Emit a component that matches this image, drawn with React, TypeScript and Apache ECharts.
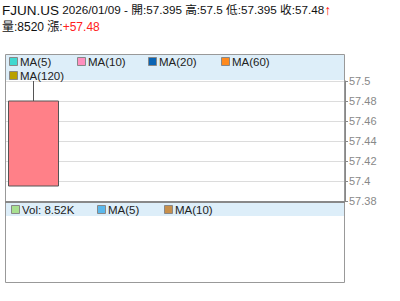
import React, { useEffect, useRef } from "react";
import * as echarts from "echarts";

const symbol = "FJUN.US";
const dates = ["2026/01/09"];
// [open, close, low, high]
const ohlc = [[57.395, 57.48, 57.395, 57.5]];
const volumes = [8520];
const changeText = "+57.48";
const yMin = 57.38;
const yMax = 57.5;
const yInterval = 0.02;
const slotCount = 6;

const priceLegend = [
  { name: "MA(5)", color: "#40d8d0", x: 9, row: 0 },
  { name: "MA(10)", color: "#ff8fbf", x: 77, row: 0 },
  { name: "MA(20)", color: "#0a64b4", x: 148, row: 0 },
  { name: "MA(60)", color: "#ff8a1e", x: 221, row: 0 },
  { name: "MA(120)", color: "#b8a000", x: 9, row: 1 },
];
const volLegend = [
  { name: "Vol: 8.52K", color: "#a8e090", x: 11 },
  { name: "MA(5)", color: "#5ab8ec", x: 97 },
  { name: "MA(10)", color: "#c8904c", x: 164 },
];

const FONT = "Liberation Sans, Arial, Noto Sans CJK TC, sans-serif";

export default function App() {
  const ref = useRef<HTMLDivElement>(null);
  useEffect(() => {
    if (!ref.current) return;
    const chart = echarts.init(ref.current, null, { renderer: "svg" });
    const [o, c, l, h] = ohlc[0];
    const graphic: any[] = [
      {
        type: "text",
        x: 2,
        y: 3,
        style: {
          text: `{a|${symbol}} {b|${dates[0]} - 開:${o} 高:${h} 低:${l} 收:${c}}{r|↑}`,
          rich: {
            a: { fontSize: 13.5, fontFamily: FONT, fill: "#111" },
            b: { fontSize: 11.7, fontFamily: FONT, fill: "#111" },
            r: { fontSize: 14, fontWeight: "bold", fontFamily: FONT, fill: "#ff2020" },
          },
        },
      },
      {
        type: "text",
        x: 2,
        y: 21,
        style: {
          text: `{b|量:${volumes[0]} 漲:}{r|${changeText}}`,
          rich: {
            b: { fontSize: 12, fontFamily: FONT, fill: "#111" },
            r: { fontSize: 12, fontFamily: FONT, fill: "#ff2020" },
          },
        },
      },
      { type: "rect", shape: { x: 6, y: 55, width: 338, height: 25 }, style: { fill: "#ddeef9" }, z: 0 },
      { type: "rect", shape: { x: 6, y: 203, width: 338, height: 13 }, style: { fill: "#ddeef9" }, z: 0 },
      { type: "rect", shape: { x: 5.5, y: 54.5, width: 339, height: 147 }, style: { fill: "none", stroke: "#999", lineWidth: 1 }, z: 5 },
      { type: "rect", shape: { x: 5.5, y: 202, width: 339, height: 80.5 }, style: { fill: "none", stroke: "#999", lineWidth: 1 }, z: 5 },
      { type: "line", shape: { x1: 5, y1: 202, x2: 345, y2: 202 }, style: { stroke: "#888", lineWidth: 2 }, z: 6 },
    ];
    priceLegend.forEach((p) => {
      const cy = 62 + p.row * 14;
      graphic.push({ type: "rect", shape: { x: p.x + 0.5, y: cy - 4.5, width: 8, height: 8 }, style: { fill: p.color, stroke: "#888", lineWidth: 1 }, z: 10 });
      graphic.push({ type: "text", x: p.x + 11, y: cy, style: { text: p.name, fontSize: 11.5, fontFamily: FONT, fill: "#222", verticalAlign: "middle" }, z: 10 });
    });
    volLegend.forEach((p) => {
      const cy = 210;
      graphic.push({ type: "rect", shape: { x: p.x + 0.5, y: cy - 4.5, width: 8, height: 8 }, style: { fill: p.color, stroke: "#888", lineWidth: 1 }, z: 10 });
      graphic.push({ type: "text", x: p.x + 11, y: cy, style: { text: p.name, fontSize: 11.5, fontFamily: FONT, fill: "#222", verticalAlign: "middle" }, z: 10 });
    });

    chart.setOption({
      animation: false,
      graphic,
      grid: [{ left: 5, width: 340, top: 81, height: 120, show: false }],
      xAxis: [
        {
          type: "category",
          data: dates,
          max: slotCount - 1,
          show: false,
          boundaryGap: true,
        },
      ],
      yAxis: [
        {
          type: "value",
          position: "right",
          min: yMin,
          max: yMax,
          interval: yInterval,
          axisLine: { show: true, lineStyle: { color: "#888" } },
          axisTick: { show: true, length: 3, lineStyle: { color: "#888" } },
          axisLabel: {
            color: "#888",
            fontSize: 11,
            fontFamily: FONT,
            margin: 4,
            formatter: (v: number) => String(parseFloat(v.toFixed(2))),
          },
          splitLine: { show: true, lineStyle: { color: "#dcdcdc" } },
        },
      ],
      series: [
        {
          type: "candlestick",
          data: ohlc,
          barWidth: 50,
          itemStyle: {
            color: "#ff8088",
            color0: "#80c080",
            borderColor: "#555",
            borderColor0: "#555",
            borderWidth: 1,
          },
        },
      ],
    });
    return () => chart.dispose();
  }, []);
  return <div ref={ref} style={{ width: 400, height: 301, position: "absolute", left: 0, top: 0 }} />;
}
